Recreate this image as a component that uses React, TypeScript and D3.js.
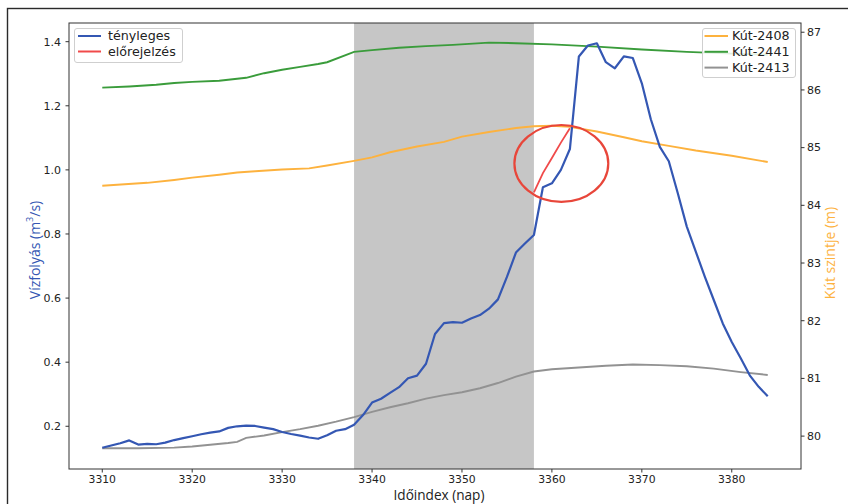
import React from 'react';
import * as d3 from 'd3';

// ---- data ----
const flowDays = d3.range(3310, 3385);
const flowActual = [
  0.133, 0.140, 0.147, 0.156, 0.143, 0.145, 0.144, 0.149, 0.157, 0.163,
  0.169, 0.175, 0.180, 0.184, 0.195, 0.200, 0.202, 0.201, 0.196, 0.191,
  0.182, 0.176, 0.171, 0.165, 0.161, 0.172, 0.186, 0.191, 0.205, 0.235,
  0.274, 0.286, 0.304, 0.322, 0.350, 0.358, 0.395, 0.488, 0.522, 0.525,
  0.523, 0.536, 0.547, 0.567, 0.596, 0.666, 0.742, 0.770, 0.797, 0.946,
  0.958, 1.000, 1.065, 1.354, 1.388, 1.395, 1.336, 1.317, 1.354, 1.349,
  1.270, 1.158, 1.072, 1.027, 0.927, 0.823, 0.745, 0.667, 0.594, 0.521,
  0.463, 0.412, 0.359, 0.323, 0.294,
];

const forecastDays = [3358, 3359, 3360, 3361, 3362];
const forecastValues = [0.93, 0.99, 1.037, 1.085, 1.13];

const well2408Days = [3310, 3315, 3318, 3320, 3323, 3325, 3327, 3330, 3333, 3335, 3338, 3340, 3342, 3345, 3348, 3350, 3353, 3356, 3358, 3360, 3362, 3365, 3368, 3370, 3373, 3376, 3380, 3384];
const well2408 = [84.34, 84.39, 84.44, 84.48, 84.53, 84.57, 84.59, 84.62, 84.64, 84.69, 84.77, 84.83, 84.92, 85.02, 85.10, 85.19, 85.27, 85.34, 85.37, 85.38, 85.36, 85.28, 85.18, 85.11, 85.03, 84.95, 84.86, 84.75];

const well2441Days = [3310, 3313, 3316, 3318, 3320, 3323, 3326, 3328, 3330, 3332, 3334, 3335, 3338, 3340, 3343, 3346, 3349, 3353, 3356, 3360, 3365, 3370, 3375, 3380, 3384];
const well2441 = [86.04, 86.06, 86.09, 86.12, 86.14, 86.16, 86.21, 86.29, 86.35, 86.40, 86.45, 86.48, 86.66, 86.69, 86.73, 86.76, 86.78, 86.82, 86.81, 86.79, 86.75, 86.70, 86.66, 86.63, 86.61];

const well2413Days = [3310, 3314, 3318, 3320, 3322, 3324, 3325, 3326, 3328, 3330, 3332, 3334, 3336, 3338, 3340, 3342, 3344, 3346, 3348, 3350, 3352, 3354, 3356, 3358, 3360, 3363, 3366, 3369, 3372, 3375, 3378, 3381, 3384];
const well2413 = [79.79, 79.79, 79.80, 79.82, 79.85, 79.88, 79.90, 79.97, 80.01, 80.07, 80.12, 80.18, 80.25, 80.33, 80.42, 80.50, 80.57, 80.65, 80.71, 80.76, 80.83, 80.92, 81.03, 81.12, 81.16, 81.19, 81.22, 81.24, 81.23, 81.21, 81.17, 81.11, 81.06];

const shadeRange = [3338, 3358];
const xTicks = [3310, 3320, 3330, 3340, 3350, 3360, 3370, 3380];
const yLeftTicks = [0.2, 0.4, 0.6, 0.8, 1.0, 1.2, 1.4];
const yRightTicks = [80, 81, 82, 83, 84, 85, 86, 87];

const leftLegend = [
  { label: 'tényleges', color: '#3457b3' },
  { label: 'előrejelzés', color: '#f04a4a' },
];
const rightLegend = [
  { label: 'Kút-2408', color: '#fdb23e' },
  { label: 'Kút-2441', color: '#3a9c3b' },
  { label: 'Kút-2413', color: '#929292' },
];

const COL_BLUE = '#3457b3';
const COL_RED = '#f04a4a';
const COL_ORANGE = '#fdb23e';
const COL_GREEN = '#3a9c3b';
const COL_GRAY = '#929292';
const COL_CIRCLE = '#e8463a';

export default function App() {
  const L = 69, R = 801, T = 23, B = 469;
  const x = d3.scaleLinear().domain([3306.3, 3387.7]).range([L, R]);
  const yL = d3.scaleLinear().domain([0.0667, 1.4583]).range([B, T]);
  const yR = d3.scaleLinear().domain([79.43, 87.16]).range([B, T]);

  const lineL = (days: number[], vals: number[]) =>
    d3.line<number>().x((_, i) => x(days[i])).y((v) => yL(v))(vals) || '';
  const lineR = (days: number[], vals: number[]) =>
    d3.line<number>().x((_, i) => x(days[i])).y((v) => yR(v))(vals) || '';

  const tickFont = '"DejaVu Sans", sans-serif';
  const labelFont = '"Open Sans", sans-serif';

  const ecx = x(3361.05);
  const ecy = yL(1.02);
  const erx = x(3361.05 + 5.22) - x(3361.05);
  const ery = yL(1.02) - yL(1.14);

  return (
    <svg width={848} height={504} style={{ position: 'absolute', left: 0, top: 0, background: '#fff' }}>
      <rect x={0} y={0} width={848} height={504} fill="#fff" />
      {/* outer frame */}
      <rect x={7.5} y={8.5} width={900} height={600} fill="none" stroke="#2a2a2a" strokeWidth={1.4} />

      {/* shaded span */}
      <rect x={x(shadeRange[0])} y={T} width={x(shadeRange[1]) - x(shadeRange[0])} height={B - T} fill="#c6c6c6" />

      {/* well lines */}
      <path d={lineR(well2408Days, well2408)} fill="none" stroke={COL_ORANGE} strokeWidth={1.9} />
      <path d={lineR(well2441Days, well2441)} fill="none" stroke={COL_GREEN} strokeWidth={1.9} />
      <path d={lineR(well2413Days, well2413)} fill="none" stroke={COL_GRAY} strokeWidth={1.9} />

      {/* flow lines */}
      <path d={lineL(flowDays, flowActual)} fill="none" stroke={COL_BLUE} strokeWidth={2.2} strokeLinejoin="round" />
      <path d={lineL(forecastDays, forecastValues)} fill="none" stroke={COL_RED} strokeWidth={1.8} />

      {/* annotation ellipse */}
      <ellipse cx={ecx} cy={ecy} rx={erx} ry={ery} fill="none" stroke={COL_CIRCLE} strokeWidth={2.2} />

      {/* axes frame */}
      <rect x={L} y={T} width={R - L} height={B - T} fill="none" stroke="#333" strokeWidth={1} />

      {/* bottom ticks */}
      {xTicks.map((t) => (
        <g key={'x' + t}>
          <line x1={x(t)} x2={x(t)} y1={B} y2={B + 3.5} stroke="#333" />
          <text x={x(t)} y={B + 14} textAnchor="middle" fontFamily={tickFont} fontSize={10.8} fill="#222">{t}</text>
        </g>
      ))}
      {/* left ticks */}
      {yLeftTicks.map((t) => (
        <g key={'yl' + t}>
          <line x1={L - 3.5} x2={L} y1={yL(t)} y2={yL(t)} stroke="#333" />
          <text x={L - 8} y={yL(t)} dy="0.35em" textAnchor="end" fontFamily={tickFont} fontSize={11} fill="#222">{t.toFixed(1)}</text>
        </g>
      ))}
      {/* right ticks */}
      {yRightTicks.map((t) => (
        <g key={'yr' + t}>
          <line x1={R} x2={R + 3.5} y1={yR(t)} y2={yR(t)} stroke="#333" />
          <text x={R + 6} y={yR(t)} dy="0.35em" textAnchor="start" fontFamily={tickFont} fontSize={11} fill="#222">{t}</text>
        </g>
      ))}

      {/* axis labels */}
      <text x={439} y={500} textAnchor="middle" fontFamily={labelFont} fontSize={13.6} fill="#222">Időindex (nap)</text>
      <text transform={`translate(34,250) rotate(-90)`} textAnchor="middle" dominantBaseline="central" fontFamily={labelFont} fontSize={14} fill={COL_BLUE}>
        Vízfolyás (m<tspan dy="-5" fontSize={9}>3</tspan><tspan dy="5">/s)</tspan>
      </text>
      <text transform={`translate(829,253) rotate(-90)`} textAnchor="middle" dominantBaseline="central" fontFamily={labelFont} fontSize={14} fill={COL_ORANGE}>Kút szintje (m)</text>

      {/* left legend */}
      <rect x={74.5} y={28.5} width={108} height={34} rx={2.5} fill="#fff" fillOpacity={0.85} stroke="#cfcfcf" />
      {leftLegend.map((d, i) => (
        <g key={d.label}>
          <line x1={78} x2={101} y1={36 + i * 15.5} y2={36 + i * 15.5} stroke={d.color} strokeWidth={2} />
          <text x={108} y={36 + i * 15.5} dy="0.35em" fontFamily={tickFont} fontSize={12.7} fill="#222">{d.label}</text>
        </g>
      ))}

      {/* right legend */}
      <rect x={702.5} y={28.5} width={93} height={49} rx={2.5} fill="#fff" fillOpacity={0.85} stroke="#cfcfcf" />
      {rightLegend.map((d, i) => (
        <g key={d.label}>
          <line x1={704.5} x2={728} y1={36 + i * 15.8} y2={36 + i * 15.8} stroke={d.color} strokeWidth={2} />
          <text x={732} y={36 + i * 15.8} dy="0.35em" fontFamily={tickFont} fontSize={12.7} fill="#222">{d.label}</text>
        </g>
      ))}
    </svg>
  );
}
